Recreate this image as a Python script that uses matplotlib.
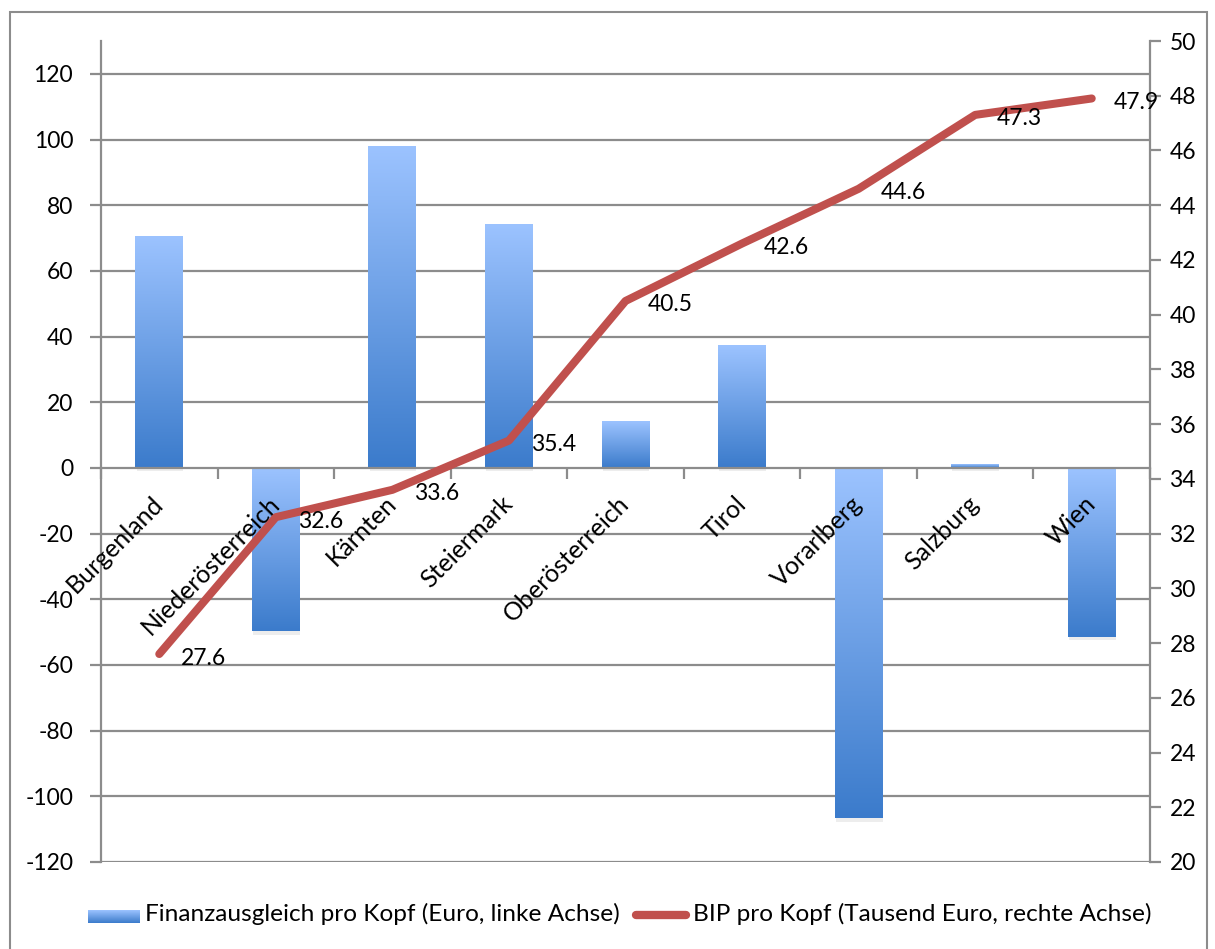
import numpy as np
import matplotlib
matplotlib.use("Agg")
import matplotlib.pyplot as plt
from matplotlib.colors import LinearSegmentedColormap
from matplotlib.patches import Rectangle
from matplotlib.lines import Line2D
import matplotlib.transforms as mtransforms

plt.rcParams['font.family'] = ['Lato', 'DejaVu Sans']

regions = ["Burgenland", "Niederösterreich", "Kärnten", "Steiermark", "Oberösterreich",
           "Tirol", "Vorarlberg", "Salzburg", "Wien"]
finanzausgleich = [70.5, -49.8, 97.9, 74.2, 14.3, 37.4, -106.7, 1.2, -51.4]
bip = [27.6, 32.6, 33.6, 35.4, 40.5, 42.6, 44.6, 47.3, 47.9]
left_ticks = list(range(-120, 121, 20))
right_ticks = list(range(20, 51, 2))

FS = 16.5      # tick labels
FS_CAT = 18    # category labels
FS_LEG = 17.6  # legend
GRID = "#8c8c8c"
RED = "#c0504d"
cmap = LinearSegmentedColormap.from_list("blu", ["#3b7bcb", "#9cc3ff"])

fig = plt.figure(figsize=(12.15, 9.49), dpi=100)
ax = fig.add_axes([101 / 1215, 1 - 862 / 949, 1049 / 1215, 821 / 949])
ax2 = ax.twinx()

x = np.arange(len(regions))

# gridlines
for t in left_ticks:
    if t != 0:
        ax.axhline(t, color=GRID, lw=1.6, zorder=0)

# gradient bars
bars = ax.bar(x, finanzausgleich, width=0.41, color="none", zorder=2)
grad = np.linspace(0, 1, 256).reshape(-1, 1)
for b in bars:
    x0, y0 = b.get_x(), b.get_y()
    w, h = b.get_width(), b.get_height()
    lo, hi = min(y0, y0 + h), max(y0, y0 + h)
    # soft shadow below the bar
    ax.add_patch(Rectangle((x0 + 0.01, lo - 1.0), w - 0.01, hi - lo, color="#000000",
                           alpha=0.07, lw=0, zorder=1))
    ax.imshow(grad, cmap=cmap, aspect="auto", extent=(x0, x0 + w, lo, hi),
              origin="lower", zorder=2, interpolation="bicubic")
ax.set_xlim(-0.5, len(regions) - 0.5)
ax.set_ylim(-120, 130)
ax2.set_ylim(20, 50)

# spines
for s in ["top", "right"]:
    ax.spines[s].set_visible(False)
ax.spines["bottom"].set_position(("data", 0))
ax.spines["bottom"].set_color(GRID)
ax.spines["bottom"].set_linewidth(1.6)
ax.spines["left"].set_color(GRID)
ax.spines["left"].set_linewidth(1.6)
for s in ["top", "left", "bottom"]:
    ax2.spines[s].set_visible(False)
ax2.spines["right"].set_color(GRID)
ax2.spines["right"].set_linewidth(1.6)

ax.set_yticks(left_ticks)
ax.set_yticklabels([str(t) for t in left_ticks], fontsize=FS)
ax.tick_params(axis="y", direction="out", length=8, width=1.6, color=GRID, pad=12)
ax.set_xticks(np.arange(-0.5, len(regions), 1))
ax.set_xticklabels([])
ax.tick_params(axis="x", direction="out", length=8, width=1.6, color=GRID)

ax2.set_yticks(right_ticks)
ax2.set_yticklabels([str(t) for t in right_ticks], fontsize=FS)
ax2.tick_params(axis="y", direction="out", length=8, width=1.6, color=GRID, pad=6)

# category labels
off = mtransforms.offset_copy(ax.transData, fig=fig, x=-8, y=-24, units="dots")
for i, r in enumerate(regions):
    ax.text(i, 0, r, rotation=45, ha="right", va="top", rotation_mode="anchor",
            fontsize=FS_CAT, transform=off, zorder=5)

# line
ax2.plot(x, bip, color=RED, lw=5.8, solid_capstyle="round", solid_joinstyle="round", zorder=4)
off2 = mtransforms.offset_copy(ax2.transData, fig=fig, x=22, y=-4, units="dots")
for i, v in enumerate(bip):
    ax2.text(i, v, f"{v:.1f}", ha="left", va="center", fontsize=FS, transform=off2, zorder=5)
ax.set_zorder(1)
ax2.set_zorder(2)
ax.patch.set_visible(False)
ax2.patch.set_visible(False)

# legend
lax = fig.add_axes([88 / 1215, 1 - 923 / 949, 52 / 1215, 13 / 949])
lax.imshow(grad, cmap=cmap, aspect="auto", origin="lower", extent=(0, 1, 0, 1))
lax.axis("off")
fig.text(145 / 1215, 1 - 914 / 949, "Finanzausgleich pro Kopf (Euro, linke Achse)",
         fontsize=FS_LEG, va="center", ha="left")
fig.add_artist(Line2D([636 / 1215, 686 / 1215], [1 - 915 / 949, 1 - 915 / 949],
                      color=RED, lw=6, solid_capstyle="round"))
fig.text(693 / 1215, 1 - 914 / 949, "BIP pro Kopf (Tausend Euro, rechte Achse)",
         fontsize=FS_LEG, va="center", ha="left")

# outer frame
fig.add_artist(Rectangle((10 / 1215, -0.05), 1197 / 1215, 1.05 - 12 / 949,
                         transform=fig.transFigure, fill=False, ec=GRID, lw=1.5))

fig.savefig("out.png", dpi=100)
